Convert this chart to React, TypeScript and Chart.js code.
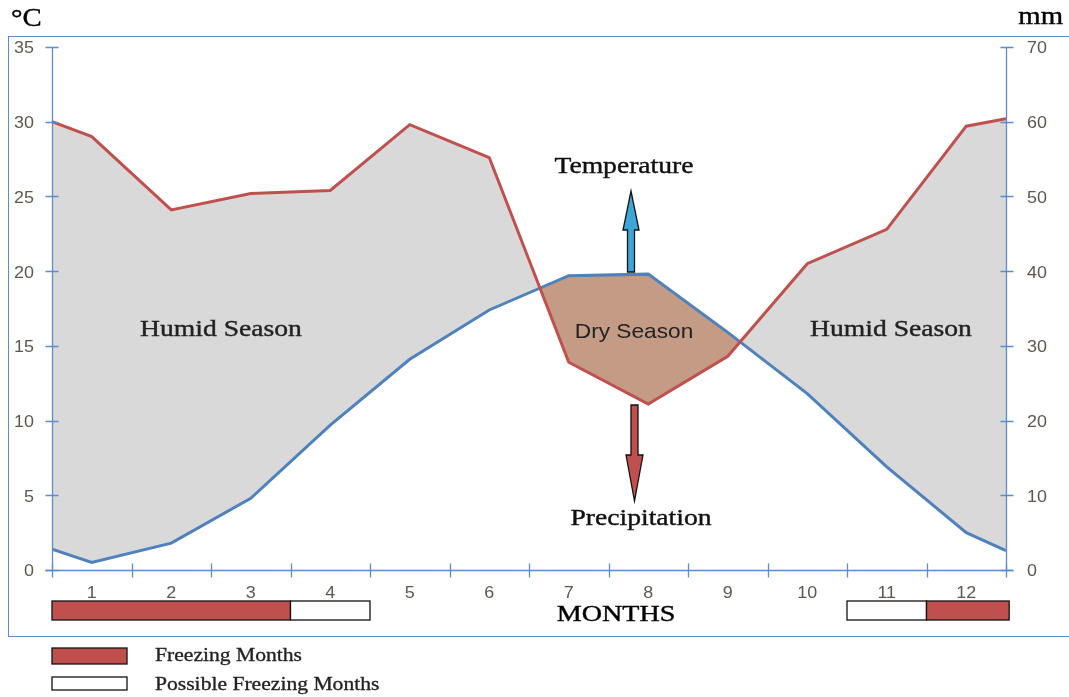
import React, { useEffect, useRef } from "react";
import { Chart, registerables } from "chart.js";

Chart.register(...registerables);

// x positions: 0 = left edge of month 1, 12 = right edge of month 12
const xPositions = [0, 0.5, 1.5, 2.5, 3.5, 4.5, 5.5, 6.5, 7.5, 8.5, 9.5, 10.5, 11.5, 12];
// red line (left-axis °C equivalent; right axis mm = 2x)
const redValues = [30.0, 29.0, 24.1, 25.2, 25.4, 29.8, 27.6, 13.9, 11.1, 14.3, 20.5, 22.8, 29.7, 30.2];
// blue line (°C)
const blueValues = [1.4, 0.5, 1.8, 4.8, 9.7, 14.1, 17.4, 19.7, 19.8, 15.9, 11.8, 6.9, 2.5, 1.3];
const monthLabels = ["1", "2", "3", "4", "5", "6", "7", "8", "9", "10", "11", "12"];
const leftTicks = [0, 5, 10, 15, 20, 25, 30, 35];
const rightTicks = [0, 10, 20, 30, 40, 50, 60, 70];
// freezing bars: [startMonthEdge, endMonthEdge, kind]
const freezingBars: [number, number, string][] = [
  [0, 3, "freezing"],
  [3, 4, "possible"],
  [10, 11, "possible"],
  [11, 12.04, "freezing"],
];

const RED = "#c0504d";
const BLUE = "#4f81bd";
const AXIS = "#5b8bd0";
const TICKTXT = "#5f5750";
const SERIF = "'Liberation Serif', 'DejaVu Serif', serif";
const SANS = "'Liberation Sans', Arial, sans-serif";

function txt(ctx: any, s: string, x: number, y: number, font: string, sx: number, align: string, color: string, stroke = 0) {
  ctx.save();
  ctx.font = font;
  ctx.fillStyle = color;
  ctx.textBaseline = "middle";
  ctx.textAlign = align;
  ctx.translate(x, y);
  ctx.scale(sx, 1);
  ctx.fillText(s, 0, 0);
  if (stroke > 0) {
    ctx.strokeStyle = color;
    ctx.lineWidth = stroke;
    ctx.strokeText(s, 0, 0);
  }
  ctx.restore();
}

const decorPlugin = {
  id: "decor",
  beforeDatasetsDraw(chart: any) {
    const ctx = chart.ctx;
    ctx.save();
    ctx.strokeStyle = AXIS;
    ctx.lineWidth = 1;
    ctx.strokeRect(8.5, 36.5, 1080, 600);
    ctx.restore();
  },
  afterDatasetsDraw(chart: any) {
    const ctx = chart.ctx;
    const xs = chart.scales.x;
    const ys = chart.scales.y;
    const yr = chart.scales.y2;
    ctx.save();
    // axes
    ctx.strokeStyle = AXIS;
    ctx.lineWidth = 1.3;
    const L = Math.round(xs.getPixelForValue(0)) + 0.5;
    const R = Math.round(xs.getPixelForValue(12)) + 0.5;
    const B = Math.round(ys.getPixelForValue(0)) + 0.5;
    const T = Math.round(ys.getPixelForValue(35)) + 0.5;
    ctx.beginPath();
    ctx.moveTo(L, T); ctx.lineTo(L, B);
    ctx.moveTo(R, T); ctx.lineTo(R, B);
    ctx.moveTo(L - 7, B); ctx.lineTo(R + 7, B);
    ctx.stroke();
    ctx.beginPath();
    leftTicks.forEach((v) => {
      const y = Math.round(ys.getPixelForValue(v)) + 0.5;
      ctx.moveTo(L - 7, y); ctx.lineTo(L + 6, y);
    });
    rightTicks.forEach((v) => {
      const y = Math.round(yr.getPixelForValue(v)) + 0.5;
      ctx.moveTo(R - 6, y); ctx.lineTo(R + 7, y);
    });
    for (let i = 0; i <= 12; i++) {
      const x = Math.round(xs.getPixelForValue(i)) + 0.5;
      ctx.moveTo(x, B - 7); ctx.lineTo(x, B + 7);
    }
    ctx.stroke();

    // tick labels
    const tf = `16px ${SANS}`;
    leftTicks.forEach((v) => txt(ctx, String(v), 34, ys.getPixelForValue(v) + 2, tf, 1.12, "right", TICKTXT));
    rightTicks.forEach((v) => txt(ctx, String(v), 1027, yr.getPixelForValue(v) + 2, tf, 1.12, "left", TICKTXT));
    monthLabels.forEach((m, i) => txt(ctx, m, xs.getPixelForValue(i + 0.5), 594, tf, 1.12, "center", TICKTXT));

    // unit labels
    txt(ctx, "°C", 11, 19, `25px ${SERIF}`, 1.15, "left", "#000", 0.4);
    txt(ctx, "mm", 1063, 17, `25px ${SERIF}`, 1.15, "right", "#000", 0.4);

    // freezing bars
    freezingBars.forEach(([a, b, kind]) => {
      const x1 = xs.getPixelForValue(a);
      const x2 = xs.getPixelForValue(b);
      ctx.fillStyle = kind === "freezing" ? RED : "#ffffff";
      ctx.fillRect(x1, 601, x2 - x1, 19);
      ctx.strokeStyle = "#111";
      ctx.lineWidth = 1.3;
      ctx.strokeRect(x1, 601, x2 - x1, 19);
    });

    // MONTHS
    txt(ctx, "MONTHS", 616, 615, `24px ${SERIF}`, 1.17, "center", "#000", 0.4);

    // legend
    ctx.fillStyle = RED;
    ctx.fillRect(52, 648, 75, 16);
    ctx.strokeStyle = "#111";
    ctx.lineWidth = 1.3;
    ctx.strokeRect(52, 648, 75, 16);
    ctx.fillStyle = "#fff";
    ctx.fillRect(52, 677, 75, 13);
    ctx.strokeRect(52, 677, 75, 13);
    const lf = `18px ${SERIF}`;
    txt(ctx, "Freezing Months", 155, 656, lf, 1.2, "left", "#222", 0.3);
    txt(ctx, "Possible Freezing Months", 155, 685, lf, 1.2, "left", "#222", 0.3);

    // season labels
    const sf = `24px ${SERIF}`;
    txt(ctx, "Humid Season", 221, 330, sf, 1.15, "center", "#222", 0.4);
    txt(ctx, "Humid Season", 891, 330, sf, 1.15, "center", "#222", 0.4);
    txt(ctx, "Dry Season", 634, 332, `21px ${SANS}`, 1.08, "center", "#222");
    txt(ctx, "Temperature", 624, 167, sf, 1.15, "center", "#111", 0.4);
    txt(ctx, "Precipitation", 641, 519, sf, 1.15, "center", "#111", 0.4);

    // arrows
    const arrow = (cx: number, y0: number, yBase: number, yTip: number, sw: number, hw: number, fill: string) => {
      ctx.beginPath();
      ctx.moveTo(cx - sw / 2, y0);
      ctx.lineTo(cx - sw / 2, yBase);
      ctx.lineTo(cx - hw / 2, yBase);
      ctx.lineTo(cx, yTip);
      ctx.lineTo(cx + hw / 2, yBase);
      ctx.lineTo(cx + sw / 2, yBase);
      ctx.lineTo(cx + sw / 2, y0);
      ctx.closePath();
      ctx.fillStyle = fill;
      ctx.fill();
      ctx.strokeStyle = "#111";
      ctx.lineWidth = 1.3;
      ctx.stroke();
    };
    arrow(631, 272, 230, 191, 7, 16, "#3ea6d6");
    arrow(634.5, 405, 455, 501, 7, 17, RED);
    ctx.restore();
  },
};

export default function App() {
  const ref = useRef<HTMLCanvasElement>(null);
  useEffect(() => {
    document.body.style.margin = "0";
    const chart = new Chart(ref.current!, {
      type: "line",
      data: {
        datasets: [
          {
            label: "Red",
            data: xPositions.map((x, i) => ({ x, y: redValues[i] })),
            borderColor: RED,
            borderWidth: 3,
            pointRadius: 0,
            tension: 0,
            fill: { target: 1, above: "#d9d9d9", below: "#c49b84" },
            yAxisID: "y",
          },
          {
            label: "Blue",
            data: xPositions.map((x, i) => ({ x, y: blueValues[i] })),
            borderColor: BLUE,
            borderWidth: 3,
            pointRadius: 0,
            tension: 0,
            fill: false,
            yAxisID: "y",
          },
        ],
      },
      options: {
        animation: false,
        responsive: false,
        layout: { padding: { left: 52, right: 63, top: 47, bottom: 127 } },
        plugins: {
          legend: { display: false },
          tooltip: { enabled: false },
          filler: { drawTime: "beforeDatasetsDraw" },
        } as any,
        scales: {
          x: { type: "linear", min: 0, max: 12, display: false },
          y: { type: "linear", min: 0, max: 35, display: false },
          y2: { type: "linear", min: 0, max: 70, display: false, position: "right" },
        },
      },
      plugins: [decorPlugin],
    });
    return () => chart.destroy();
  }, []);
  return (
    <div style={{ position: "fixed", left: 0, top: 0, width: 1069, height: 697, background: "#fff" }}>
      <canvas ref={ref} width={1069} height={697} style={{ width: 1069, height: 697 }} />
    </div>
  );
}
